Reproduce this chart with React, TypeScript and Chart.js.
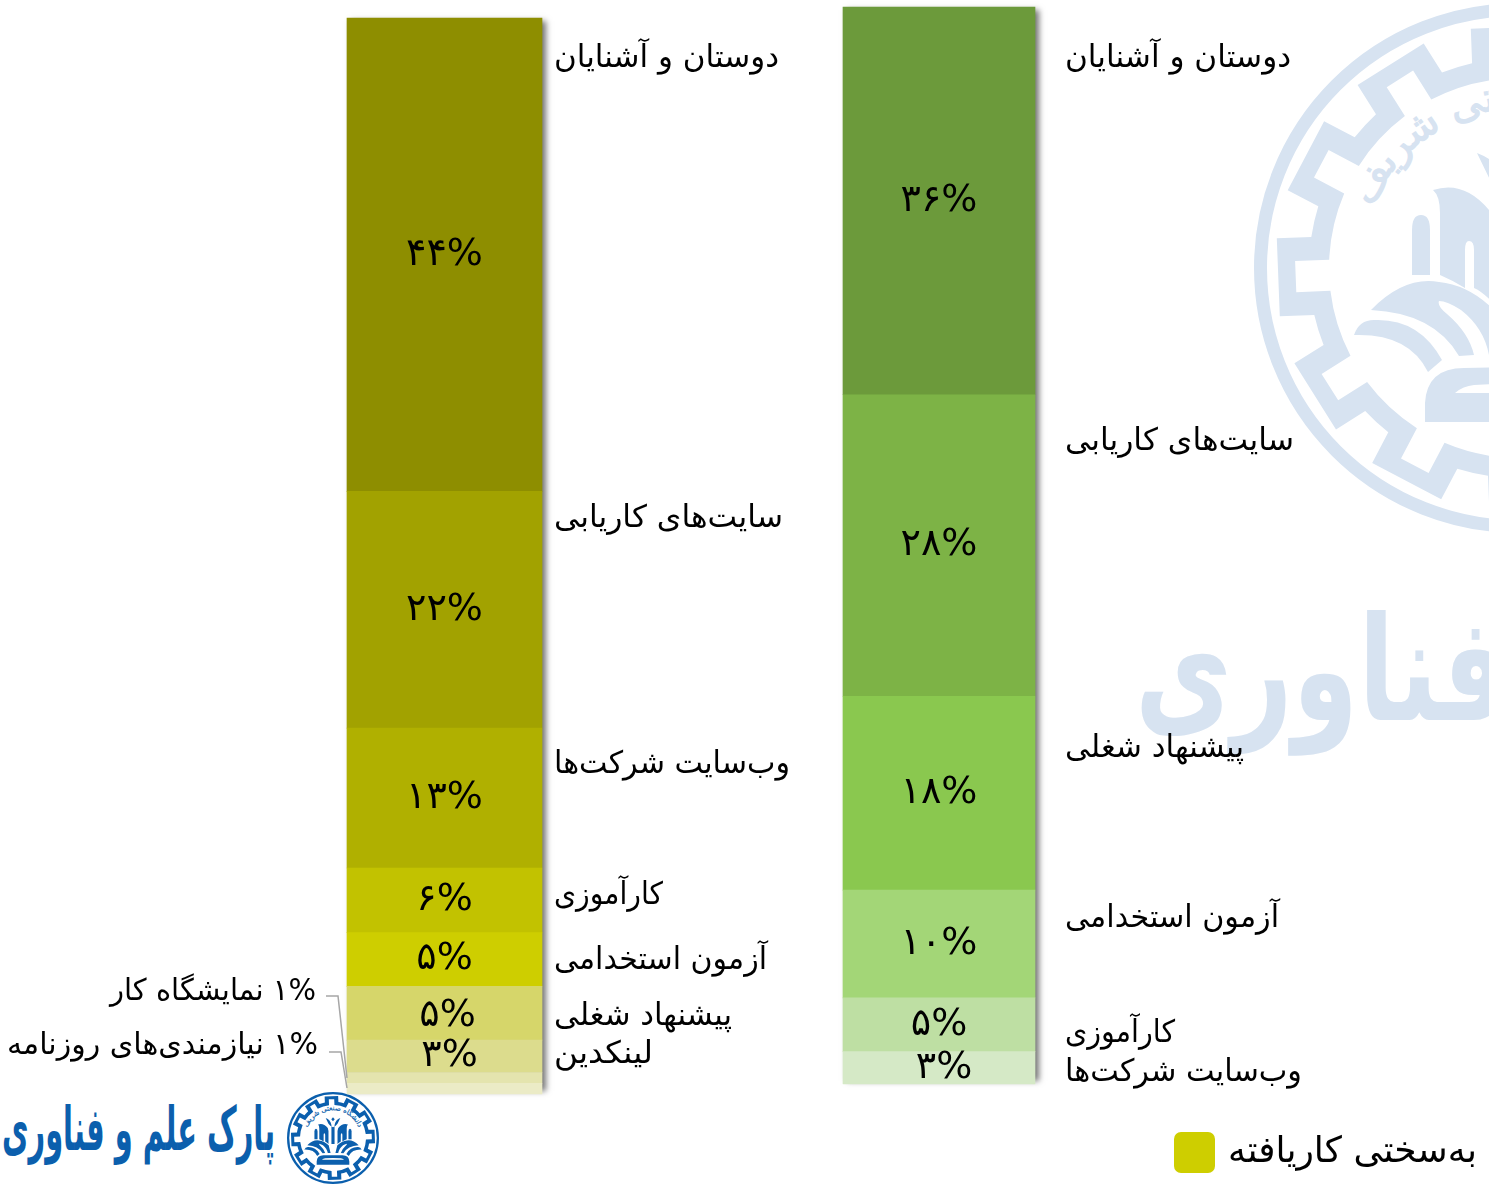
import React, { useEffect, useRef } from "react";
import { Chart, registerables } from "chart.js";

Chart.register(...registerables);

const W = 1489;
const H = 1185;
const FONT = '"DejaVu Sans"';

// ---- data ----
const leftCategories = ["دوستان و آشنایان", "سایت‌های کاریابی", "وب‌سایت شرکت‌ها", "کارآموزی", "آزمون استخدامی", "پیشنهاد شغلی", "لینکدین", "نمایشگاه کار", "نیازمندی‌های روزنامه"];
const leftValues = [44, 22, 13, 6, 5, 5, 3, 1, 1];
const rightCategories = ["دوستان و آشنایان", "سایت‌های کاریابی", "پیشنهاد شغلی", "آزمون استخدامی", "کارآموزی", "وب‌سایت شرکت‌ها"];
const rightValues = [36, 28, 18, 10, 5, 3];
const columns = ["left", "right"];
const legendLabel = "به‌سختی کاریافته";
const parkName = "پارک علم و فناوری";
const parkWord = "فناوری";
const universityName = "دانشگاه صنعتی شریف";

// ---- styles / layout ----
const leftColors = ["#8E8E00", "#A2A200", "#B0B000", "#C2C200", "#CECE00", "#D6D66A", "#DCDC8D", "#E4E4AE", "#EBEBC6"];
const rightColors = ["#6C9A3B", "#7DB346", "#8AC84F", "#A3D677", "#BEDFA3", "#D5E9C6"];
const leftLabelY = [59, 519, 765, 896, 961, 1017, 1055];
const rightLabelY = [59, 442, 749, 919, 1034, 1073];
const leftLabelW = [225, 229, 236, 109, 213, 178, 99];
const rightLabelW = [226, 229, 179, 214, 110, 237];

const fa = (n: number) => String(n).replace(/\d/g, (d) => "۰۱۲۳۴۵۶۷۸۹"[+d]);

function gearPath() {
  const pt = (deg: number, r: number) => {
    const a = (deg * Math.PI) / 180;
    return `${(r * Math.cos(a)).toFixed(1)} ${(r * Math.sin(a)).toFixed(1)}`;
  };
  let outer = "";
  let inner = "";
  for (let i = 0; i < 12; i++) {
    const t = 177.8 + i * 30;
    outer += `${i ? `A210 210 0 0 1 ${pt(t - 10.7, 210)}` : `M${pt(t - 10.7, 210)}`}L${pt(t - 9.2, 244)}L${pt(t + 9.2, 244)}L${pt(t + 10.7, 210)}`;
    inner += `${i ? `A190 190 0 0 1 ${pt(t - 4.7, 190)}` : `M${pt(t - 4.7, 190)}`}L${pt(t - 4, 224)}L${pt(t + 4, 224)}L${pt(t + 4.7, 190)}`;
  }
  outer += `A210 210 0 0 1 ${pt(177.8 - 10.7, 210)}Z`;
  inner += `A190 190 0 0 1 ${pt(177.8 - 4.7, 190)}Z`;
  return outer + inner;
}

const emblemHalf = [
  "M-107 -38 Q-107 -53 -98 -53 Q-89 -53 -89 -38 L-89 7 L-107 7Z",
  "M-79 7 L-79 -55 Q-79 -72 -86 -78 Q-55 -88 -30 -58 L-26 -40 L-26 35 Q-36 24 -45 20 L-45 -18 Q-45 -27 -50 -27 Q-54 -27 -54 -18 L-54 20 Q-65 13 -79 7Z",
  "M-148 42 Q-115 8 -80 14 Q-50 17 -25 42 L-14 87 L-30 87 Q-35 60 -58 42 Q-72 33 -80 33 Q-82 38 -72 46 Q-50 65 -45 87 L-60 88 Q-85 45 -148 42Z",
  "M-165 67 Q-160 52 -145 52 Q-100 50 -77 92 L-91 104 Q-110 65 -165 67Z",
  "M-94 154 L-94 135 Q-92 100 -55 100 L0 99 L0 115 L-45 117 Q-56 118 -64 125 L0 125 L0 154Z",
  "M-42 -115 Q-15 -105 -9 -75 L-9 35 L0 35 L0 -62 Q-18 -70 -26 -82Z",
  "M0 -120 L-10 -108 L0 -96Z",
];

function Logo({ cx, cy, scale, color }: { cx: number; cy: number; scale: number; color: string }) {
  const id = `arc${cx}`;
  return (
    <g transform={`translate(${cx} ${cy}) scale(${scale})`} fill={color}>
      <circle r={258.5} fill="none" stroke={color} strokeWidth={13} />
      <path d={gearPath()} fillRule="evenodd" />
      <path id={id} d="M-146 -62 A158 158 0 0 1 146 -62" fill="none" />
      <text fontFamily={FONT} fontSize={40} direction="rtl" textAnchor="middle" stroke={color} strokeWidth={1.2}>
        <textPath href={`#${id}`} startOffset="50%">{universityName}</textPath>
      </text>
      {emblemHalf.map((d) => <path key={d} d={d} />)}
      <g transform="scale(-1 1)">{emblemHalf.map((d) => <path key={d} d={d} />)}</g>
    </g>
  );
}

// draws text so that its left edge sits at x and it spans the given width
function fitText(ctx: any, text: string, x: number, y: number, width: number) {
  const k = width / ctx.measureText(text).width;
  ctx.save();
  ctx.translate(x, y);
  ctx.scale(k, 1);
  ctx.fillText(text, 0, 0);
  ctx.restore();
}

const barPlugin = {
  id: "barDecor",
  beforeDatasetsDraw(chart: any) {
    const ctx = chart.ctx;
    const rects: Record<string, number[]> = {};
    chart.data.datasets.forEach((ds: any, i: number) => {
      const meta = chart.getDatasetMeta(i);
      const el = meta.data[ds.columnIndex];
      const r = rects[ds.yAxisID] ?? [el.x - el.width / 2, el.width, el.y, el.base];
      r[2] = Math.min(r[2], el.y);
      r[3] = Math.max(r[3], el.base);
      rects[ds.yAxisID] = r;
    });
    ctx.save();
    ctx.shadowColor = "rgba(0,0,0,0.55)";
    ctx.shadowOffsetX = 4;
    ctx.shadowOffsetY = 0;
    ctx.shadowBlur = 6;
    ctx.fillStyle = "#999";
    Object.values(rects).forEach((r) => ctx.fillRect(r[0], r[2] + 3, r[1], r[3] - r[2] - 6));
    ctx.restore();
  },
  afterDatasetsDraw(chart: any) {
    const ctx = chart.ctx;
    ctx.save();
    ctx.fillStyle = "#000";
    ctx.textBaseline = "middle";

    // percent labels inside the segments
    ctx.font = `38px ${FONT}`;
    ctx.textAlign = "center";
    ctx.direction = "ltr";
    chart.data.datasets.forEach((ds: any, i: number) => {
      const v = ds.data[ds.columnIndex];
      if (v < 3) return;
      const el = chart.getDatasetMeta(i).data[ds.columnIndex];
      const isLowFive = ds.columnIndex === 0 && ds.label === leftCategories[5];
      const nudgeX = v === 3 ? 5 : isLowFive ? 3 : 0;
      const nudgeY = isLowFive ? 3 : 0;
      ctx.fillText(`${fa(v)}%`, el.x + nudgeX, (el.y + el.base) / 2 + nudgeY);
    });

    // category labels
    ctx.font = `31px ${FONT}`;
    ctx.direction = "rtl";
    ctx.textAlign = "left";
    leftLabelY.forEach((y, i) => fitText(ctx, leftCategories[i], 554, y, leftLabelW[i]));
    rightLabelY.forEach((y, i) => fitText(ctx, rightCategories[i], 1065, y, rightLabelW[i]));

    // outside labels + leader lines
    ctx.font = `30px ${FONT}`;
    fitText(ctx, `${fa(leftValues[7])}% ${leftCategories[7]}`, 110, 992, 206);
    fitText(ctx, `${fa(leftValues[8])}% ${leftCategories[8]}`, 7, 1046, 311);
    ctx.strokeStyle = "#A6A6A6";
    ctx.lineWidth = 1.5;
    ctx.beginPath();
    ctx.moveTo(326, 996);
    ctx.lineTo(338, 996);
    ctx.lineTo(347, 1078);
    ctx.moveTo(329, 1052);
    ctx.lineTo(341, 1052);
    ctx.lineTo(347, 1088);
    ctx.stroke();

    // legend
    ctx.fillStyle = "#CECE00";
    ctx.beginPath();
    ctx.roundRect(1174, 1132, 41, 41, 7);
    ctx.fill();
    ctx.fillStyle = "#000";
    ctx.font = `36px ${FONT}`;
    ctx.textAlign = "right";
    ctx.fillText(legendLabel, 1477, 1153);
    ctx.restore();
  },
};

export default function App() {
  const ref = useRef<HTMLCanvasElement>(null);
  useEffect(() => {
    const make = (labels: string[], values: number[], colors: string[], col: number, axis: string, thickness: number) =>
      values.map((v, i) => ({
        label: labels[i],
        data: columns.map((_, c) => (c === col ? v : null)),
        backgroundColor: colors[i],
        yAxisID: axis,
        barThickness: thickness,
        columnIndex: col,
        borderWidth: 0,
      })).reverse();
    const chart = new Chart(ref.current!, {
      type: "bar",
      data: {
        labels: columns,
        datasets: [
          ...make(leftCategories, leftValues, leftColors, 0, "yL", 195),
          ...make(rightCategories, rightValues, rightColors, 1, "yR", 192),
        ] as any,
      },
      plugins: [barPlugin],
      options: {
        responsive: false,
        animation: false,
        layout: { padding: { left: 197.25, right: 302.75, top: 0, bottom: 0 } },
        plugins: { legend: { display: false }, tooltip: { enabled: false } },
        scales: {
          x: { stacked: true, display: false },
          yL: { stacked: true, display: false, min: -91 / 10.76, max: 1094 / 10.76 },
          yR: { stacked: true, display: false, min: -101 / 10.77, max: 1084 / 10.77 },
        },
      },
    });
    return () => chart.destroy();
  }, []);

  return (
    <div style={{ position: "absolute", left: 0, top: 0, width: W, height: H, overflow: "hidden", background: "#fff" }}>
      <svg width={W} height={H} style={{ position: "absolute", left: 0, top: 0 }}>
        <Logo cx={1519} cy={268} scale={1} color="#D7E3F1" />
        <text x={1135} y={720} fontFamily={FONT} fontWeight="bold" fontSize={145} fill="#D7E3F1" direction="rtl" textAnchor="end" textLength={375} lengthAdjust="spacingAndGlyphs">{parkWord}</text>
        <g transform="translate(275 1150) scale(1 1.2)">
          <text x={0} y={0} fontFamily={FONT} fontWeight="bold" fontSize={50} fill="#0B5FAD" direction="rtl" textAnchor="start" textLength={273} lengthAdjust="spacingAndGlyphs">{parkName}</text>
        </g>
        <Logo cx={333} cy={1138} scale={46 / 265} color="#0B5FAD" />
      </svg>
      <canvas ref={ref} width={W} height={H} style={{ position: "absolute", left: 0, top: 0, display: "block" }} />
    </div>
  );
}
